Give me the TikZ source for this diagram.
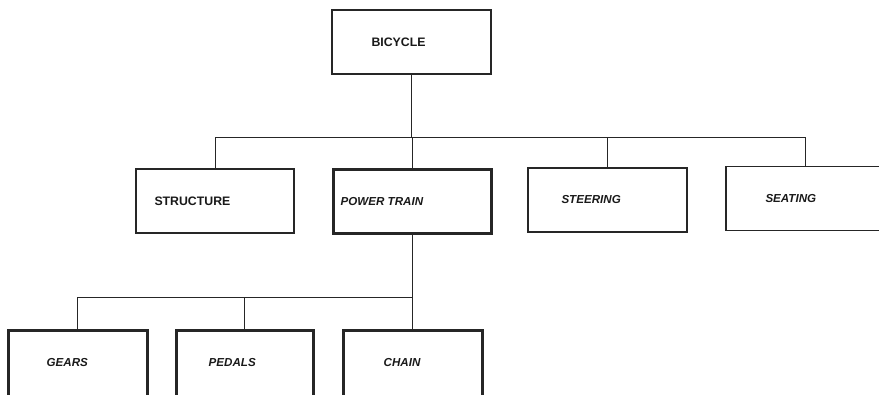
\documentclass[tikz,border=0pt]{standalone}
\usepackage{fontspec}
\setmainfont{Liberation Sans}
\usetikzlibrary{positioning}
\colorlet{myline}{black!85}
\colorlet{mytext}{black!90}
\tikzset{
  part/.style={draw=myline, line width=1.4pt, minimum width=159pt, minimum height=64pt, inner sep=0pt},
  subpart/.style={part, line width=3pt, minimum width=139pt, minimum height=66pt},
  partname/.style={anchor=west, inner sep=0pt, text=mytext, font=\fontsize{12.3}{14}\selectfont\bfseries},
  subname/.style={partname, font=\fontsize{11.6}{14}\selectfont\bfseries\itshape},
  link/.style={draw=myline, line width=0.9pt},
}

\begin{document}
\begin{tikzpicture}[x=1pt, y=-1pt]
        \useasboundingbox (0,0) rectangle (879,394);
        \clip (0,0) rectangle (879,394);

        % top level
        \node[part] (bicycle) at (411.5,42) {};
        \node[partname, right=40pt of bicycle.west] (bicyclename) {BICYCLE};

        % second level
        \node[part, minimum width=158pt] (structure) at (215,201) {};
        \node[part, line width=3pt, minimum width=158pt] (powertrain) at (412,201.5) {};
        \node[part] (steering) at (607.5,200) {};
        \node[part] (seating) at (805.5,198.5) {};
        \node[partname, right=19pt of structure.west] (structurename) {STRUCTURE};
        \node[subname, right=9pt of powertrain.west] (powertrainname) {POWER TRAIN};
        \node[subname, right=34pt of steering.west] (steeringname) {STEERING};
        \node[subname, right=40pt of seating.west] (seatingname) {SEATING};

        % power train parts
        \node[subpart] (gears) at (77.5,363) {};
        \node[subpart, minimum width=137pt] (pedals) at (244.5,363) {};
        \node[subpart] (chain) at (412.5,363) {};
        \node[subname, right=40pt of gears.west] (gearsname) {GEARS};
        \node[subname, right=34pt of pedals.west] (pedalsname) {PEDALS};
        \node[subname, right=42pt of chain.west] (chainname) {CHAIN};

        \coordinate (topbus) at (0,137);
        \coordinate (lowbus) at (0,297);
        \foreach \child in {structure,powertrain,steering,seating}
          \draw[link] (bicycle.south) -- (bicycle.south |- topbus) -| (\child.north);
        \foreach \child in {gears,pedals,chain}
          \draw[link] (powertrain.south) -- (powertrain.south |- lowbus) -| (\child.north);
      \end{tikzpicture}
\end{document}
